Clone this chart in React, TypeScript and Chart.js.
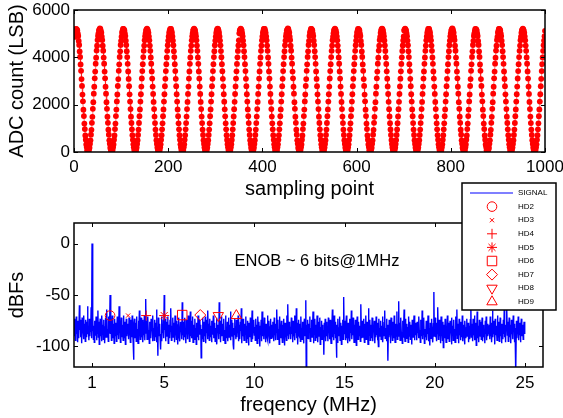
import React, { useEffect, useRef } from 'react';
import { Chart, registerables } from 'chart.js';
import { drawPoint } from 'chart.js/helpers';

Chart.register(...registerables);

// ---------- Top plot: ADC output samples ----------
const SAMPLE_TICKS = [0, 200, 400, 600, 800, 1000];
const ADC_TICKS = [0, 2000, 4000, 6000];
const ADC_COUNTS = [
  4861,5042,5117,5203,5196,5177,5139,5008,4902,4691,4523,4250,4019,3702,3431,3080,2790,2428,2141,1789,1520,1201,969,698,522,318,207,79,41,0,22,105,181,347,493,731,938,1234,1487,1825,2106,2463,2756,3114,3398,3733,3987,4284,4491,4729,
  4904,5013,5140,5181,5224,5199,5115,5041,4871,4728,4490,4281,3988,3734,3397,3112,2758,2465,2104,1823,1489,1232,940,729,495,345,182,103,24,3,39,83,204,319,521,700,967,1203,1518,1791,2139,2430,2788,3082,3429,3704,4017,4252,4521,4697,
  4873,5039,5121,5197,5205,5183,5136,5014,4899,4702,4517,4259,4012,3725,3405,3089,2781,2439,2130,1815,1494,1226,960,707,515,326,199,86,35,14,27,97,188,338,500,722,946,1225,1510,1799,2131,2440,2765,3105,3421,3710,4010,4275,4498,4721,
  4895,5020,5133,5184,5216,5185,5122,5035,4880,4720,4498,4274,3995,3729,3406,3104,2766,2455,2115,1815,1497,1224,946,722,500,339,186,99,23,17,37,85,200,325,514,708,960,1210,1511,1800,2130,2440,2780,3090,3420,3710,3996,4274,4512,4706,
  4881,5034,5121,5196,5203,5197,5121,5034,4881,4706,4512,4260,4010,3710,3420,3090,2780,2440,2130,1800,1510,1210,960,708,514,325,200,85,37,3,37,85,200,325,514,708,960,1224,1496,1814,2116,2454,2766,3104,3406,3724,3996,4274,4498,4720,
  4895,5020,5135,5183,5217,5183,5135,5020,4895,4720,4498,4274,3996,3724,3406,3104,2766,2454,2116,1814,1496,1224,946,722,500,339,186,99,23,17,23,99,186,339,500,722,946,1210,1510,1800,2130,2440,2780,3090,3420,3710,4010,4260,4512,4706,
  4876,5030,5125,5193,5207,5194,5124,5031,4884,4709,4509,4263,4007,3713,3417,3093,2777,2443,2127,1803,1507,1213,957,711,511,328,197,88,34,6,34,88,197,328,511,711,957,1221,1499,1811,2119,2451,2769,3101,3409,3721,3999,4271,4501,4717,
  5020,5135,5183,5217,5183,5135,5020,4895,4706,4512,4260,4010,3710,3420,3090,2780,2440,2130,1800,1510,1224,946,722,500,339,186,99,23,17,23,99,186,339,500,722,946,1224,1496,1814,2116,2454,2766,3104,3406,3724,3996,4274,4498,4720,4881,
  5034,5121,5197,5203,5197,5121,5034,4881,4720,4498,4274,3996,3724,3406,3104,2766,2454,2116,1814,1496,1210,960,708,514,325,200,85,37,3,37,85,200,325,514,708,960,1210,1510,1800,2130,2440,2780,3090,3420,3710,4010,4260,4512,4706,4895,
  5013,5140,5181,5224,5199,5115,5041,4871,4728,4490,4281,3988,3734,3397,3112,2758,2465,2104,1823,1489,1232,940,729,495,345,182,103,24,3,39,83,204,319,521,700,967,1203,1518,1791,2139,2430,2788,3082,3429,3704,4017,4252,4521,4697,4904,
  5039,5121,5197,5205,5183,5136,5014,4899,4702,4517,4259,4012,3725,3405,3089,2781,2439,2130,1815,1494,1226,960,707,515,326,199,86,35,14,27,97,188,338,500,722,946,1225,1510,1799,2131,2440,2765,3105,3421,3710,4010,4275,4498,4721,4873,
  5020,5133,5184,5216,5185,5122,5035,4880,4720,4498,4274,3995,3729,3406,3104,2766,2455,2115,1815,1497,1224,946,722,500,339,186,99,23,17,37,85,200,325,514,708,960,1210,1511,1800,2130,2440,2780,3090,3420,3710,3996,4274,4512,4706,4895,
  5042,5117,5203,5196,5177,5139,5008,4902,4691,4523,4250,4019,3702,3431,3080,2790,2428,2141,1789,1520,1201,969,698,522,318,207,79,41,0,22,105,181,347,493,731,938,1234,1487,1825,2106,2463,2756,3114,3398,3733,3987,4284,4491,4729,4861,
  5031,5126,5188,5212,5186,5131,5022,4890,4716,4502,4270,4001,3719,3410,3099,2770,2450,2120,1810,1500,1220,950,718,504,335,190,95,27,12,28,94,190,335,504,718,950,1220,1500,1810,2120,2450,2770,3100,3410,3720,4000,4270,4502,4716,4885,
  5135,5183,5217,5183,5135,5020,4895,4706,4512,4260,4010,3710,3420,3090,2780,2440,2130,1800,1510,1224,946,722,500,339,186,99,23,17,23,99,186,339,500,722,946,1224,1496,1814,2116,2454,2766,3104,3406,3724,3996,4274,4498,4720,4881,5034,
  5121,5197,5203,5197,5121,5034,4881,4720,4498,4274,3996,3724,3406,3104,2766,2454,2116,1814,1496,1210,960,708,514,325,200,85,37,3,37,85,200,325,514,708,960,1210,1510,1800,2130,2440,2780,3090,3420,3710,4010,4260,4512,4706,4895,5020,
  5140,5181,5224,5199,5115,5041,4871,4728,4490,4281,3988,3734,3397,3112,2758,2465,2104,1823,1489,1232,940,729,495,345,182,103,24,3,39,83,204,319,521,700,967,1203,1518,1791,2139,2430,2788,3082,3429,3704,4017,4252,4521,4697,4904,5013,
  5117,5203,5196,5177,5139,5008,4902,4691,4523,4250,4019,3702,3431,3080,2790,2428,2141,1789,1520,1201,969,698,522,318,207,79,41,0,22,105,181,347,493,731,938,1234,1487,1825,2106,2463,2756,3114,3398,3733,3987,4284,4491,4729,4861,5042,
  5121,5197,5205,5183,5136,5014,4899,4702,4517,4259,4012,3725,3405,3089,2781,2439,2130,1815,1494,1226,960,707,515,326,199,86,35,14,27,97,188,338,500,722,946,1225,1510,1799,2131,2440,2765,3105,3421,3710,4010,4275,4498,4721,4873,5039,
  5133,5184,5216,5185,5122,5035,4880,4720,4498,4274,3995,3729,3406,3104,2766,2455,2115,1815,1497,1224,946,722,500,339,186,99,23,17,37,85,200,325,514,708,960,1210,1511,1800,2130,2440,2780,3090,3420,3710,3996,4274,4512,4706,4895,5120,
];

// ---------- Bottom plot: spectrum ----------
const FREQ_BIN_MHZ = 0.025;
const FREQ_TICKS = [1, 5, 10, 15, 20, 25];
const DBFS_TICKS = [-100, -50, 0];
const SPECTRUM_DBFS = [
  -77,-90,-73,-94,-82,-71,-88,-79,-96,-75,-86,-92,-60,-84,-74,-91,-80,-97,-72,-87,-83,-93,-70,-89,-78,-95,-74,-85,-91,-76,-61,-88,-81,-94,-73,-90,-79,-86,-62,-92,
  0,-85,-72,-93,-80,-96,-75,-89,-83,-71,-94,-78,-87,-65,-91,-76,-98,-82,-73,-90,-84,-95,-70,-88,-79,-93,-74,-86,-97,-81,-72,-91,-77,-64,-89,-83,-95,-71,-87,-80,
  -50,-88,-75,-94,-81,-70,-92,-78,-86,-97,-73,-84,-90,-77,-95,-82,-71,-89,-80,-93,-61,-86,-74,-96,-83,-72,-91,-79,-87,-94,-70,-85,-92,-76,-98,-81,-73,-90,-84,-78,
  -82,-93,-72,-89,-79,-96,-74,-87,-91,-70,-85,-94,-113,-80,-73,-92,-86,-77,-95,-71,-88,-83,-97,-75,-90,-65,-84,-93,-78,-72,-91,-86,-74,-96,-81,-89,-70,-94,-79,-54,
  -87,-75,-93,-80,-71,-90,-84,-97,-76,-88,-92,-73,-85,-79,-95,-70,-89,-82,-94,-74,-86,-91,-77,-64,-96,-81,-109,-72,-90,-85,-78,-93,-103,-88,-71,-95,-80,-87,-74,-92,
  -50,-84,-73,-95,-81,-90,-76,-88,-71,-97,-83,-79,-92,-74,-86,-63,-94,-80,-89,-72,-91,-77,-85,-96,-70,-88,-82,-93,-75,-87,-98,-79,-72,-90,-84,-95,-76,-86,-81,-93,
  -57,-89,-76,-94,-80,-72,-91,-85,-97,-74,-88,-81,-93,-70,-86,-78,-95,-83,-66,-90,-75,-92,-84,-71,-96,-79,-87,-93,-73,-89,-82,-98,-77,-85,-91,-70,-94,-80,-88,-74,
  -86,-79,-111,-83,-92,-72,-88,-95,-76,-84,-90,-71,-97,-81,-87,-74,-93,-65,-89,-78,-94,-73,-86,-91,-80,-96,-75,-88,-83,-70,-92,-85,-77,-95,-82,-89,-72,-98,-79,-87,
  -80,-93,-57,-88,-75,-96,-82,-71,-90,-86,-78,-94,-73,-89,-84,-97,-70,-87,-81,-92,-76,-95,-83,-72,-91,-79,-88,-66,-94,-74,-86,-90,-77,-98,-103,-82,-73,-89,-85,-93,
  -74,-91,-82,-87,-70,-95,-79,-88,-93,-76,-85,-63,-97,-81,-90,-73,-86,-94,-78,-89,-84,-71,-96,-80,-92,-75,-87,-99,-77,-83,-91,-72,-88,-95,-79,-65,-93,-82,-86,-74,
  -89,-81,-94,-73,-87,-79,-97,-84,-71,-92,-76,-88,-100,-80,-85,-74,-95,-66,-90,-83,-77,-93,-72,-89,-86,-96,-78,-82,-91,-70,-94,-84,-75,-88,-97,-81,-73,-92,-87,-79,
  -91,-76,-85,-95,-72,-89,-81,-94,-78,-87,-64,-93,-74,-90,-83,-98,-71,-86,-80,-92,-75,-88,-96,-79,-84,-73,-91,-99,-77,-87,-82,-94,-70,-89,-59,-85,-93,-76,-88,-81,
  -84,-93,-72,-88,-79,-96,-75,-90,-86,-70,-94,-81,-87,-63,-92,-77,-98,-83,-74,-89,-91,-78,-95,-71,-86,-82,-93,-76,-88,-97,-80,-73,-90,-85,-55,-125,-79,-92,-74,-87,
  -93,-78,-86,-71,-95,-82,-89,-74,-91,-84,-66,-97,-80,-88,-73,-94,-79,-85,-92,-70,-87,-96,-76,-83,-90,-72,-98,-81,-86,-75,-93,-79,-89,-84,-108,-77,-91,-73,-95,-82,
  -76,-90,-83,-95,-72,-87,-80,-93,-74,-89,-97,-78,-85,-64,-91,-81,-94,-70,-88,-76,-92,-84,-111,-79,-96,-73,-87,-90,-82,-71,-94,-86,-77,-98,-80,-89,-74,-93,-52,-85,
  -88,-75,-94,-81,-70,-92,-86,-97,-77,-83,-90,-73,-95,-80,-87,-65,-93,-78,-89,-72,-84,-96,-79,-91,-74,-86,-99,-82,-71,-88,-93,-76,-85,-90,-80,-95,-59,-83,-92,-75,
  -82,-91,-73,-87,-96,-78,-84,-70,-93,-89,-76,-85,-98,-63,-90,-81,-74,-94,-87,-79,-92,-72,-88,-95,-80,-86,-75,-97,-83,-91,-71,-89,-77,-94,-84,-100,-73,-88,-82,-90,
  -75,-93,-80,-88,-71,-96,-84,-90,-77,-65,-92,-82,-87,-73,-95,-79,-114,-86,-91,-74,-89,-83,-97,-72,-88,-80,-94,-76,-85,-92,-70,-87,-96,-81,-78,-90,-66,-93,-84,-79,
  -56,-90,-77,-94,-83,-72,-89,-86,-97,-75,-91,-80,-64,-88,-95,-73,-85,-92,-78,-87,-81,-96,-71,-90,-84,-76,-93,-88,-79,-98,-74,-86,-91,-82,-70,-94,-87,-77,-89,-83,
  -94,-76,-87,-81,-92,-71,-89,-84,-96,-74,-85,-90,-65,-93,-79,-88,-72,-97,-83,-86,-91,-75,-94,-80,-88,-70,-95,-82,-87,-99,-77,-84,-92,-73,-89,-81,-96,-78,-47,-90,
  -83,-72,-91,-86,-95,-77,-88,-62,-93,-80,-74,-90,-85,-97,-71,-87,-82,-94,-76,-101,-89,-79,-92,-73,-86,-96,-81,-88,-70,-93,-84,-77,-95,-90,-75,-87,-83,-98,-72,-89,
  -80,-94,-74,-88,-83,-96,-71,-90,-86,-64,-92,-78,-85,-97,-73,-89,-81,-94,-76,-87,-91,-70,-95,-84,-79,-88,-98,-75,-86,-92,-82,-73,-90,-87,-77,-96,-80,-85,-93,-74,
  -59,-91,-78,-86,-95,-73,-89,-82,-70,-94,-85,-77,-99,-88,-66,-92,-80,-84,-96,-74,-87,-90,-76,-93,-81,-72,-95,-86,-79,-91,-83,-97,-75,-88,-71,-94,-84,-78,-90,-86,
  -86,-79,-93,-71,-90,-77,-96,-84,-65,-91,-75,-88,-82,-98,-73,-89,-80,-85,-94,-70,-92,-83,-76,-95,-87,-72,-90,-81,-97,-78,-86,-93,-74,-88,-64,-91,-82,-96,-79,-85,
  -62,-89,-76,-95,-83,-72,-91,-79,-86,-97,-74,-88,-81,-93,-70,-85,-78,-96,-82,-90,-125,-75,-92,-84,-87,-71,-94,-80,-89,-77,-96,-83,-73,-90,-86,-79,-93,-85,-76,-88,
  -80,
];

const HARMONIC_NAMES = ['HD2', 'HD3', 'HD4', 'HD5', 'HD6', 'HD7', 'HD8', 'HD9'];
const HARMONIC_FREQ_MHZ = [2, 3, 4, 5, 6, 7, 8, 9];
const HARMONIC_DBFS = [-70, -70, -70, -70, -69.5, -69.5, -70, -70];
const HARMONIC_STYLES = ['circle', 'crossRot', 'cross', 'star', 'rect', 'rectRot', 'triangle', 'triangle'];
const HARMONIC_ROTATION = [0, 0, 0, 0, 0, 0, 180, 0];
const HARMONIC_RADIUS = [4.8, 3, 5, 5, 6.7, 5.5, 6, 6];

const ANNOTATION_TEXT = 'ENOB ~ 6 bits@1MHz';
const ANNOTATION_AT = { x: 8.9, y: -17.5 };

const FONT = '"Liberation Sans", Arial, Helvetica, sans-serif';
const RED = '#ff0000';
const BLUE = '#0000ff';

const framePlugin = {
  id: 'matlabFrame',
  afterDatasetsDraw(chart: any) {
    const { ctx, chartArea: a, scales } = chart;
    const xs = scales.x;
    const ys = scales.y;
    ctx.save();
    ctx.strokeStyle = '#000';
    ctx.lineWidth = 1;
    ctx.beginPath();
    for (const t of xs.ticks) {
      const px = Math.round(xs.getPixelForValue(t.value)) + 0.5;
      ctx.moveTo(px, a.top);
      ctx.lineTo(px, a.top + 4);
      ctx.moveTo(px, a.bottom);
      ctx.lineTo(px, a.bottom - 4);
    }
    for (const t of ys.ticks) {
      const py = Math.round(ys.getPixelForValue(t.value)) + 0.5;
      ctx.moveTo(a.left, py);
      ctx.lineTo(a.left + 4, py);
      ctx.moveTo(a.right, py);
      ctx.lineTo(a.right - 4, py);
    }
    ctx.stroke();
    ctx.lineWidth = 1.5;
    ctx.strokeRect(a.left, a.top, a.right - a.left, a.bottom - a.top);
    ctx.restore();
  },
};

const annotationPlugin = {
  id: 'enobText',
  afterDatasetsDraw(chart: any) {
    const { ctx, scales } = chart;
    ctx.save();
    ctx.font = `16.5px ${FONT}`;
    ctx.fillStyle = '#000';
    ctx.textAlign = 'left';
    ctx.textBaseline = 'middle';
    ctx.fillText(ANNOTATION_TEXT, scales.x.getPixelForValue(ANNOTATION_AT.x), scales.y.getPixelForValue(ANNOTATION_AT.y));
    ctx.restore();
  },
};

const LEGEND_BOX = { left: 462, top: 8, width: 94, height: 127 };
const LEGEND_ROW0 = 18;
const LEGEND_ROW_STEP = 13.6;

const legendPlugin = {
  id: 'hdLegend',
  afterDraw(chart: any) {
    const ctx = chart.ctx;
    const b = LEGEND_BOX;
    ctx.save();
    ctx.fillStyle = '#fff';
    ctx.fillRect(b.left, b.top, b.width, b.height);
    ctx.strokeStyle = '#000';
    ctx.lineWidth = 1.5;
    ctx.strokeRect(b.left, b.top, b.width, b.height);
    ctx.font = `8px ${FONT}`;
    ctx.textAlign = 'left';
    ctx.textBaseline = 'middle';
    const textX = b.left + 56;
    const markX = b.left + 30;
    ctx.strokeStyle = BLUE;
    ctx.lineWidth = 1.2;
    ctx.beginPath();
    ctx.moveTo(b.left + 8, LEGEND_ROW0);
    ctx.lineTo(b.left + 51, LEGEND_ROW0);
    ctx.stroke();
    ctx.fillStyle = '#000';
    ctx.fillText('SIGNAL', textX, LEGEND_ROW0);
    HARMONIC_NAMES.forEach((name, k) => {
      const y = LEGEND_ROW0 + LEGEND_ROW_STEP * (k + 1);
      ctx.strokeStyle = RED;
      ctx.fillStyle = 'rgba(0,0,0,0)';
      ctx.lineWidth = 1;
      drawPoint(ctx, {
        pointStyle: HARMONIC_STYLES[k] as any,
        rotation: HARMONIC_ROTATION[k],
        radius: HARMONIC_RADIUS[k],
        borderWidth: 1,
      } as any, markX, y);
      ctx.fillStyle = '#000';
      ctx.fillText(name, textX, y);
    });
    ctx.restore();
  },
};

const tickFont = { family: FONT, size: 17 };
const titleFont = { family: FONT, size: 20, lineHeight: 1 };

function makeTopConfig(): any {
  return {
    type: 'line',
    data: {
      datasets: [
        {
          data: ADC_COUNTS.map((v, i) => ({ x: i + 1, y: v })),
          borderColor: 'rgba(255,0,0,0.55)',
          borderWidth: 1,
          pointRadius: 2.9,
          pointBackgroundColor: RED,
          pointBorderColor: RED,
          pointBorderWidth: 0,
          tension: 0,
        },
      ],
    },
    options: {
      animation: false,
      responsive: false,
      devicePixelRatio: 1,
      events: [],
      plugins: { legend: { display: false }, tooltip: { enabled: false } },
      layout: { padding: { top: 10, right: 18, left: 0, bottom: 0 } },
      scales: {
        x: {
          type: 'linear',
          min: 0,
          max: 1000,
          grid: { display: false, drawTicks: false },
          border: { display: false },
          afterBuildTicks: (s: any) => { s.ticks = SAMPLE_TICKS.map((v) => ({ value: v })); },
          ticks: { font: tickFont, color: '#000', padding: 5, maxRotation: 0, autoSkip: false, callback: (v: any) => String(v) },
          title: { display: true, text: 'sampling point', font: titleFont, color: '#000', padding: { top: 0, bottom: 11 } },
          afterFit: (s: any) => { s.height = 58; s.paddingLeft = 0; s.paddingRight = 0; },
        },
        y: {
          type: 'linear',
          min: 0,
          max: 6000,
          grid: { display: false, drawTicks: false },
          border: { display: false },
          afterBuildTicks: (s: any) => { s.ticks = ADC_TICKS.map((v) => ({ value: v })); },
          ticks: { font: tickFont, color: '#000', padding: 4, autoSkip: false, callback: (v: any) => String(v) },
          title: { display: true, text: 'ADC count (LSB)', font: titleFont, color: '#000', padding: { top: 7, bottom: 0 } },
          afterFit: (s: any) => { s.width = 74; s.paddingTop = 0; s.paddingBottom = 0; },
        },
      },
    },
    plugins: [framePlugin],
  };
}

function makeBottomConfig(): any {
  const harmonicSets = HARMONIC_NAMES.map((name, k) => ({
    label: name,
    data: [{ x: HARMONIC_FREQ_MHZ[k], y: HARMONIC_DBFS[k] }],
    showLine: false,
    pointStyle: HARMONIC_STYLES[k],
    pointRotation: HARMONIC_ROTATION[k],
    pointRadius: HARMONIC_RADIUS[k],
    pointBorderColor: RED,
    pointBackgroundColor: 'rgba(0,0,0,0)',
    pointBorderWidth: 1,
    borderColor: RED,
    order: 0,
  }));
  return {
    type: 'line',
    data: {
      datasets: [
        ...harmonicSets,
        {
          label: 'SIGNAL',
          data: SPECTRUM_DBFS.map((v, i) => ({ x: i * FREQ_BIN_MHZ, y: v })),
          borderColor: BLUE,
          borderWidth: 1.4,
          pointRadius: 0,
          tension: 0,
          order: 1,
        },
      ],
    },
    options: {
      animation: false,
      responsive: false,
      devicePixelRatio: 1,
      events: [],
      plugins: { legend: { display: false }, tooltip: { enabled: false } },
      layout: { padding: { top: 48, right: 20, left: 0, bottom: 0 } },
      scales: {
        x: {
          type: 'linear',
          min: 0,
          max: 26,
          grid: { display: false, drawTicks: false },
          border: { display: false },
          afterBuildTicks: (s: any) => { s.ticks = FREQ_TICKS.map((v) => ({ value: v })); },
          ticks: { font: tickFont, color: '#000', padding: 6, maxRotation: 0, autoSkip: false, callback: (v: any) => String(v) },
          title: { display: true, text: 'freqency (MHz)', font: titleFont, color: '#000', padding: { top: 0, bottom: 3 } },
          afterFit: (s: any) => { s.height = 51; s.paddingLeft = 0; s.paddingRight = 0; },
        },
        y: {
          type: 'linear',
          min: -120,
          max: 20,
          grid: { display: false, drawTicks: false },
          border: { display: false },
          afterBuildTicks: (s: any) => { s.ticks = DBFS_TICKS.map((v) => ({ value: v })); },
          ticks: { font: tickFont, color: '#000', padding: 4, autoSkip: false, callback: (v: any) => String(v) },
          title: { display: true, text: 'dBFs', font: titleFont, color: '#000', padding: { top: 7, bottom: 0 } },
          afterFit: (s: any) => { s.width = 74; s.paddingTop = 0; s.paddingBottom = 0; },
        },
      },
    },
    plugins: [framePlugin, annotationPlugin, legendPlugin],
  };
}

export default function App() {
  const topRef = useRef<HTMLCanvasElement>(null);
  const botRef = useRef<HTMLCanvasElement>(null);
  useEffect(() => {
    const top = new Chart(topRef.current as HTMLCanvasElement, makeTopConfig());
    const bot = new Chart(botRef.current as HTMLCanvasElement, makeBottomConfig());
    return () => {
      top.destroy();
      bot.destroy();
    };
  }, []);
  return (
    <div style={{ position: 'fixed', left: 0, top: 0, width: 563, height: 418, background: '#fff', overflow: 'hidden' }}>
      <canvas ref={topRef} width={563} height={210} style={{ position: 'absolute', left: 0, top: 0, width: 563, height: 210 }} />
      <canvas ref={botRef} width={563} height={243} style={{ position: 'absolute', left: 0, top: 175, width: 563, height: 243 }} />
    </div>
  );
}
